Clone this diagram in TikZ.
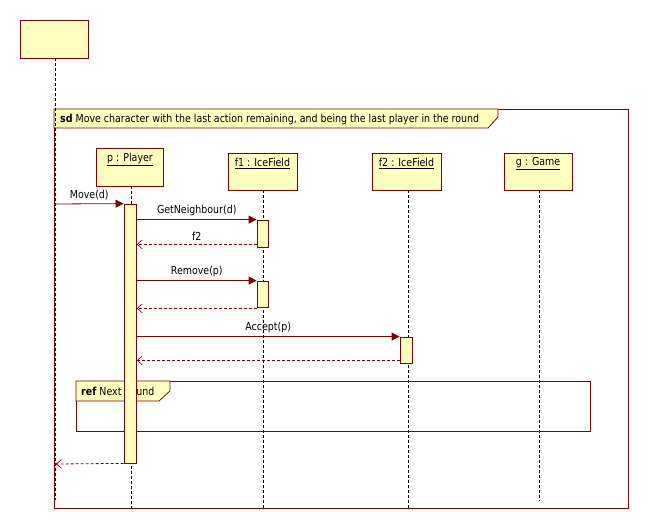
\documentclass[tikz,border=0pt]{standalone}
\usepackage{fontspec}
\setmainfont{DejaVu Sans}[FakeStretch=0.86]
\usetikzlibrary{arrows.meta}
\definecolor{umlred}{RGB}{128,0,0}
\definecolor{umlyel}{RGB}{255,255,192}
\tikzset{
  objbox/.style={draw=umlred, fill=umlyel, line width=0.8pt, inner sep=0pt},
  actbar/.style={draw=umlred, fill=umlyel, line width=0.8pt, inner sep=0pt, minimum width=12pt},
  lifeline/.style={black, line width=0.7pt, dash pattern=on 3pt off 2pt},
  msg/.style={umlred, line width=0.8pt, -{Triangle[length=8pt,width=8pt]}},
  retmsg/.style={umlred, line width=0.8pt, dash pattern=on 3pt off 2pt, -{Straight Barb[length=5pt,width=9pt,line width=0.6pt]}},
  frameline/.style={draw=umlred, line width=0.8pt},
  txt/.style={font=\fontsize{11}{13}\selectfont, text=black, inner sep=0pt},
  headtxt/.style={txt, anchor=north, yshift=-5pt},
  msglabel/.style={txt, midway, above=3.5pt},
}
\begin{document}
\begin{tikzpicture}[x=1pt, y=-1pt]
\useasboundingbox[fill=white] (0,0) rectangle (648,532);

% outer frame
\draw[frameline] (54,109) rectangle (628,508);
\draw[frameline, fill=umlyel] (54,109) -- (498,109) -- (498,117) -- (488,128) -- (54,128) -- cycle;
\node[txt, anchor=west] (sdlabel) at (60,119) {\textbf{sd} Move character with the last action remaining, and being the last player in the round};

% lifeline heads
\node[objbox, minimum width=68pt, minimum height=38pt] (top) at (54,39) {};
\node[objbox, minimum width=67pt, minimum height=38pt,
      label={[headtxt]north:\underline{p : Player}}] (p) at (130,167) {};
\node[objbox, minimum width=69pt, minimum height=37pt,
      label={[headtxt]north:\underline{f1 : IceField}}] (f1) at (262.5,171.5) {};
\node[objbox, minimum width=69pt, minimum height=37pt,
      label={[headtxt]north:\underline{f2 : IceField}}] (f2) at (406.5,171.5) {};
\node[objbox, minimum width=68pt, minimum height=37pt,
      label={[headtxt]north:\underline{g : Game}}] (g) at (538,171.5) {};

% lifeline ends
\coordinate (topend) at (55,500);
\coordinate (pend) at (131,508);
\coordinate (f1end) at (263,508);
\coordinate (f2end) at (408,508);
\coordinate (gend) at (539,501);

\draw[lifeline] (top.south -| topend) -- (topend);
\draw[lifeline] (p.south -| pend) -- (pend);
\draw[lifeline] (f1.south -| f1end) -- (f1end);
\draw[lifeline] (f2.south -| f2end) -- (f2end);
\draw[lifeline] (g.south -| gend) -- (gend);

% ref frame
\draw[frameline] (76,381) rectangle (590,431);
\draw[frameline, fill=umlyel] (76,381) -- (170,381) -- (170,391) -- (159,401) -- (76,401) -- cycle;
\node[txt, anchor=west] (reflabel) at (81,391) {\textbf{ref} Next Round};

% activation bars
\node[actbar, minimum width=12.5pt, minimum height=259pt] (aP) at (130.25,333.5) {};
\node[actbar, minimum width=11pt, minimum height=27pt] (aF1a) at (262.5,233.5) {};
\node[actbar, minimum width=11pt, minimum height=26pt] (aF1b) at (262.5,294) {};
\node[actbar, minimum width=12pt, minimum height=26pt] (aF2) at (406,350) {};

% messages
\coordinate (movestart) at (55,204);
\draw[msg] (movestart) -- (aP.north west) node[msglabel] {Move(d)};
\draw[msg] (aP.east |- aF1a.north) -- (aF1a.north west) node[msglabel] {GetNeighbour(d)};
\draw[retmsg] ([yshift=3pt]aF1a.south west) -- ([yshift=3pt]aP.east |- aF1a.south) node[msglabel] {f2};
\draw[msg] (aP.east |- aF1b.north) -- (aF1b.north west) node[msglabel] {Remove(p)};
\draw[retmsg] ([yshift=-1pt]aF1b.south west) -- ([yshift=-1pt]aP.east |- aF1b.south);
\draw[msg] (aP.east |- aF2.north) -- (aF2.north west) node[msglabel] {Accept(p)};
\draw[retmsg] ([yshift=3pt]aF2.south west) -- ([yshift=3pt]aP.east |- aF2.south);
\coordinate (retend) at (56,464);
\draw[retmsg] (aP.south west) -- (retend);
\fill[umlred] (retend) circle (1.3pt);
\end{tikzpicture}
\end{document}
